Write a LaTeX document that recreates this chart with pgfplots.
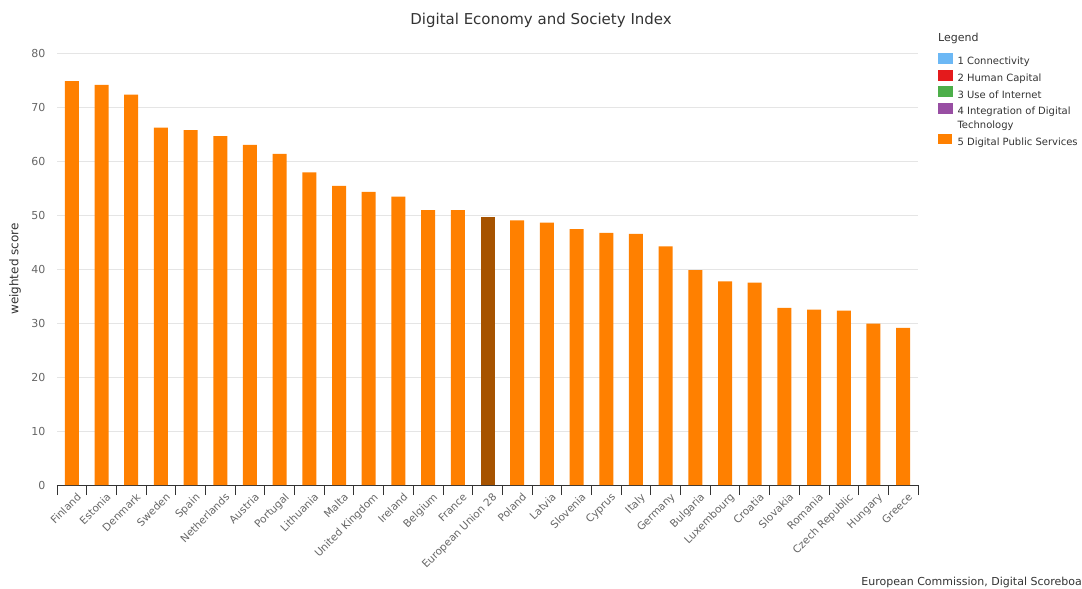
\documentclass[border=0pt]{standalone}
\usepackage{pgfplots}
\pgfplotsset{compat=1.18}
\usepackage{fontspec}
\setmainfont{DejaVu Sans}
\definecolor{cA}{HTML}{6CB8F5}
\definecolor{cB}{HTML}{E41A1C}
\definecolor{cC}{HTML}{4DAF4A}
\definecolor{cD}{HTML}{984EA3}
\definecolor{cE}{HTML}{FF8000}
\definecolor{cEU}{HTML}{A65300}
\definecolor{tgray}{HTML}{666666}
\definecolor{tdark}{HTML}{333333}
\begin{document}
\begin{tikzpicture}
\begin{axis}[
  scale only axis,
  width=861pt, height=432pt,
  xmin=-0.5, xmax=28.5,
  ymin=0, ymax=80,
  ytick={0,10,...,80},
  xtick={0,...,28},
  xticklabels={Finland,Estonia,Denmark,Sweden,Spain,Netherlands,Austria,Portugal,Lithuania,Malta,United Kingdom,Ireland,Belgium,France,European Union 28,Poland,Latvia,Slovenia,Cyprus,Italy,Germany,Bulgaria,Luxembourg,Croatia,Slovakia,Romania,Czech Republic,Hungary,Greece},
  minor xtick={-0.5,0.5,...,28.5},
  major tick length=0pt,
  minor tick length=10pt,
  tick align=outside,
  axis x line=bottom,
  axis y line=left,
  x axis line style={-, draw=tdark, line width=0.8pt},
  y axis line style={draw=none},
  ytick style={draw=none},
  minor x tick style={draw=tdark, line width=0.8pt},
  major x tick style={draw=none},
  ymajorgrids,
  major grid style={draw=black!10, line width=0.8pt},
  /pgf/number format/assume math mode=true,
  ticklabel style={font=\fontsize{11}{13}\selectfont, text=tgray},
  yticklabel style={anchor=east, xshift=-8pt},
  xticklabel style={rotate=45, anchor=north east, inner sep=1pt, yshift=-7pt, xshift=-1pt, font=\fontsize{10.5}{12}\selectfont},
  ylabel={weighted score},
  ylabel style={at={(axis description cs:-0.0488,0.5)}, anchor=center, rotate=0, font=\fontsize{12}{14}\selectfont, text=tdark},
  ybar, bar width=14pt,
  legend style={at={(axis description cs:1.0232,1.0008)}, anchor=north west, draw=none, fill=none, inner sep=0pt, row sep=1.5pt, font=\fontsize{10}{14}\selectfont, text=tdark, cells={align=left}},
  legend cell align=left,
  clip=false,
]
\addlegendimage{legend image code/.code={\fill[cA] (0pt,-1.5pt) rectangle (14pt,8.5pt); \path (17pt,0pt);}}
\addlegendentry{1 Connectivity}
\addlegendimage{legend image code/.code={\fill[cB] (0pt,-1.5pt) rectangle (14pt,8.5pt); \path (17pt,0pt);}}
\addlegendentry{2 Human Capital}
\addlegendimage{legend image code/.code={\fill[cC] (0pt,-1.5pt) rectangle (14pt,8.5pt); \path (17pt,0pt);}}
\addlegendentry{3 Use of Internet}
\addlegendimage{legend image code/.code={\fill[cD] (0pt,5.5pt) rectangle (14pt,15.5pt); \path (17pt,-1.5pt);}}
\addlegendentry{4 Integration of Digital\\Technology}
\addplot[fill=cE, draw=none, bar shift=0pt, legend image code/.code={\fill[cE] (0pt,-1.5pt) rectangle (14pt,8.5pt); \path (17pt,0pt);}] coordinates {
 (0,74.8) (1,74.1) (2,72.3) (3,66.2) (4,65.7) (5,64.6) (6,63.0) (7,61.3) (8,57.9) (9,55.4)
 (10,54.3) (11,53.4) (12,50.9) (13,50.9) (15,49.0) (16,48.6) (17,47.4) (18,46.7) (19,46.5)
 (20,44.2) (21,39.8) (22,37.7) (23,37.5) (24,32.8) (25,32.5) (26,32.3) (27,29.9) (28,29.1)
};
\addlegendentry{5 Digital Public Services}
\addplot[fill=cEU, draw=none, bar shift=0pt, forget plot] coordinates {(14,49.6)};
\node[anchor=center, font=\fontsize{15}{18}\selectfont, text=tdark, inner sep=0pt] at (axis description cs:0.5622,1.0764) {Digital Economy and Society Index};
\node[anchor=west, font=\fontsize{11}{13}\selectfont, text=tdark, inner sep=0pt] at (axis description cs:1.0232,1.0347) {Legend};
\node[anchor=east, font=\fontsize{11}{13}\selectfont, text=tdark, inner sep=0pt] at (axis description cs:1.1905,-0.2245) {European Commission, Digital Scoreboa};
\end{axis}
\path[use as bounding box] (-57pt,-104pt) rectangle (1025pt,485pt);
\end{tikzpicture}
\end{document}
